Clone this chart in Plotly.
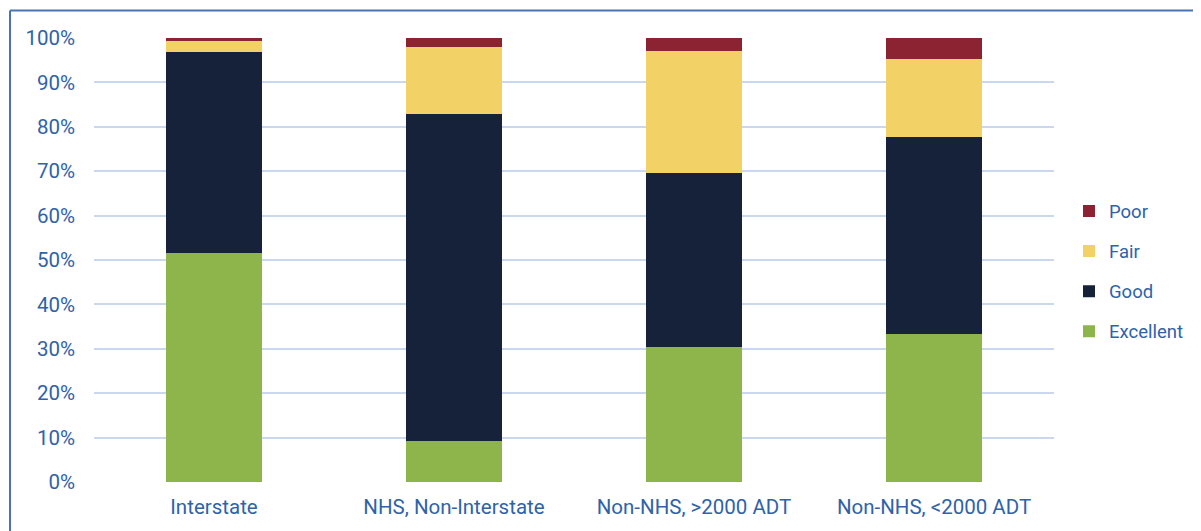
import plotly.graph_objects as go

categories = ["Interstate", "NHS, Non-Interstate", "Non-NHS, >2000 ADT", "Non-NHS, <2000 ADT"]
excellent = [51.6, 9.2, 30.4, 33.3]
good = [45.2, 73.6, 39.2, 44.4]
fair = [2.6, 15.2, 27.5, 17.6]
poor = [0.6, 2.0, 2.9, 4.7]
y_ticks = [0, 10, 20, 30, 40, 50, 60, 70, 80, 90, 100]
y_tick_labels = [f"{v}%" for v in y_ticks]

series = [
    ("Excellent", excellent, "#8DB54C", 4),
    ("Good", good, "#16213A", 3),
    ("Fair", fair, "#F2D267", 2),
    ("Poor", poor, "#8B2332", 1),
]

FONT = "Roboto, Liberation Sans, sans-serif"
FS = 20.5
LFS = 18.5
TXT = "#2F62A8"

fig = go.Figure()
for name, vals, color, rank in series:
    fig.add_trace(go.Bar(
        x=categories, y=vals, name=name, legendgroup=name, legendrank=rank,
        marker=dict(color=color, line=dict(width=0)),
    ))

# the page body has an 8px margin, so the figure starts at (8, 8) on screen
OFF = 8
W, H = 1201 - OFF, 531 - OFF
L, R, T, B = 94 - OFF, 1201 - 1054, 38 - OFF, 531 - 482
pw, ph = W - L - R, H - T - B

def px_x(p):
    return (p - OFF - L) / pw

def px_y(p):
    return (H - B - (p - OFF)) / ph

fig.update_layout(
    width=W, height=H,
    margin=dict(l=L, r=R, t=T, b=B),
    barmode="stack", bargap=0.6,
    plot_bgcolor="white", paper_bgcolor="white",
    font=dict(family=FONT, size=FS, color=TXT),
    legend=dict(
        xref="container", yref="paper",
        x=(1069 - OFF) / W, y=px_y(271.5), xanchor="left", yanchor="middle",
        traceorder="grouped", tracegroupgap=13,
        font=dict(family=FONT, size=LFS, color=TXT),
        bgcolor="rgba(0,0,0,0)", itemwidth=30,
    ),
    xaxis=dict(showgrid=False, showline=False, zeroline=False,
               tickfont=dict(family=FONT, size=FS, color=TXT), ticks="",
               ticklabelstandoff=10),
    yaxis=dict(range=[0, 100], tickvals=y_ticks, ticktext=y_tick_labels,
               showgrid=True, gridcolor="#C9D8EF", gridwidth=2,
               zeroline=False, showline=False, ticks="",
               ticklabelstandoff=18,
               tickfont=dict(family=FONT, size=FS, color=TXT)),
    shapes=[
        dict(type="line", xref="paper", yref="paper",
             x0=px_x(10), x1=px_x(1210), y0=px_y(10.5), y1=px_y(10.5),
             line=dict(color="#4A73B3", width=2)),
        dict(type="line", xref="paper", yref="paper",
             x0=px_x(10), x1=px_x(10), y0=px_y(10.5), y1=px_y(540),
             line=dict(color="#4A73B3", width=2)),
    ],
)

fig.write_html("out.html")
